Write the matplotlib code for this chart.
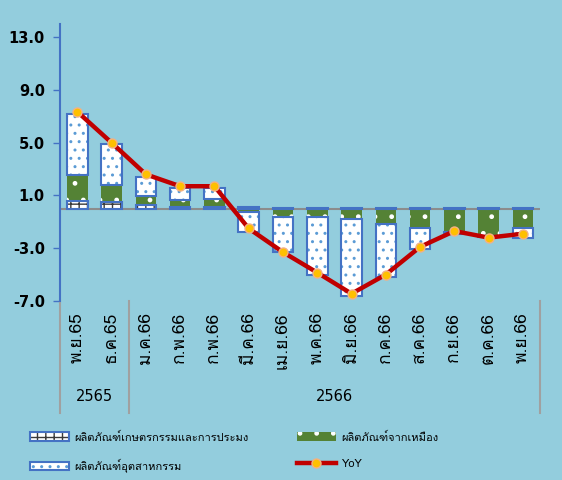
import numpy as np
import matplotlib
matplotlib.use("Agg")
import matplotlib.pyplot as plt
import matplotlib.transforms as mtransforms
from matplotlib import font_manager as fm
from matplotlib.patches import Patch
from matplotlib.lines import Line2D
from matplotlib.legend_handler import HandlerTuple

# --- find a font that can draw Thai ---
thai_font = None
try:
    from fontTools.ttLib import TTFont
    for f in fm.fontManager.ttflist:
        try:
            tt = TTFont(f.fname, fontNumber=0, lazy=True)
            if ord('ก') in tt.getBestCmap():
                thai_font = f.name
                break
        except Exception:
            pass
except Exception:
    pass
thai_family = [thai_font, 'DejaVu Sans'] if thai_font else ['DejaVu Sans']

# --- data ---
months = ['พ.ย.65', 'ธ.ค.65', 'ม.ค.66', 'ก.พ.66', 'ก.พ.66', 'มี.ค.66', 'เม.ย.66',
          'พ.ค.66', 'มิ.ย.66', 'ก.ค.66', 'ส.ค.66', 'ก.ย.66', 'ต.ค.66', 'พ.ย.66']
agri = [0.6, 0.5, 0.25, 0.15, 0.15, 0.1, 0.05, 0.03, 0.03, 0.03, 0.03, 0.05, 0.05, 0.05]
mining = [1.95, 1.3, 0.7, 0.5, 0.55, -0.25, -0.6, -0.6, -0.75, -1.15, -1.45, -1.75, -2.1, -1.45]
industry = [4.65, 3.1, 1.45, 0.95, 0.9, -1.5, -2.7, -4.4, -5.85, -4.0, -1.6, -0.15, -0.05, -0.8]
yoy = [7.35, 5.0, 2.6, 1.7, 1.7, -1.5, -3.3, -4.85, -6.45, -5.0, -2.9, -1.7, -2.2, -1.9]
years = ['2565', '2566']
year_span = [(0, 1), (2, 13)]
yticks = [-7.0, -3.0, 1.0, 5.0, 9.0, 13.0]

labels = ['ผลิตภัณฑ์เกษตรกรรมและการประมง', 'ผลิตภัณฑ์อุตสาหกรรม',
          'ผลิตภัณฑ์จากเหมือง', 'YoY']

bg = '#93CDDD'
blue = '#4472C4'
green = '#548235'
red = '#C00000'

fig = plt.figure(figsize=(5.62, 4.80), dpi=100, facecolor=bg)
ax = fig.add_axes([0.107, 0.373, 0.854, 0.577])
ax.set_facecolor(bg)

x = np.arange(len(months))
w = 0.6
pos_base = np.zeros(len(x))
neg_base = np.zeros(len(x))


def stack(vals):
    vals = np.array(vals)
    bottoms = np.where(vals >= 0, pos_base, neg_base)
    pos_base[:] += np.where(vals >= 0, vals, 0)
    neg_base[:] += np.where(vals < 0, vals, 0)
    return vals, bottoms


# agriculture: checker-ish pattern
v, b = stack(agri)
ax.bar(x, v, w, bottom=b, color='white', edgecolor='#3a3a3a', hatch='++', lw=0, zorder=2)
ax.bar(x, v, w, bottom=b, fill=False, edgecolor=blue, lw=1.5, zorder=3)

# mining: green with white dots
v, b = stack(mining)
ax.bar(x, v, w, bottom=b, color=green, edgecolor='white', hatch='.', lw=0, zorder=2)

# industry: white with blue dots
v, b = stack(industry)
ax.bar(x, v, w, bottom=b, color='white', edgecolor='#5B9BD5', hatch='..', lw=0, zorder=2)
ax.bar(x, v, w, bottom=b, fill=False, edgecolor=blue, lw=1.5, zorder=3)

ax.axhline(0, color='#8C8C8C', lw=1.5, zorder=1)

ax.plot(x, yoy, color=red, lw=3.2, marker='o', ms=6.5, mfc='#FFC000',
        mec='#F4B183', mew=1, zorder=5, solid_capstyle='round')

ax.set_xlim(-0.5, len(x) - 0.5)
ax.set_ylim(-7, 14)
ax.set_yticks(yticks)
ax.set_yticklabels([f'{t:.1f}' for t in yticks], fontsize=10.5, fontweight='bold')
ax.tick_params(axis='y', length=5, width=1, color=blue, pad=6)
ax.set_xticks(x)
ax.set_xticklabels(months, rotation=90, fontsize=12.5, family=thai_family)
ax.tick_params(axis='x', length=0, pad=8)
for s in ['top', 'right', 'bottom']:
    ax.spines[s].set_visible(False)
ax.spines['left'].set_color(blue)
ax.spines['left'].set_linewidth(1.5)

# group separators and year labels under the axis
trans = mtransforms.blended_transform_factory(ax.transData, ax.transAxes)
for xs in [-0.5, 1.5, len(x) - 0.5]:
    ax.plot([xs, xs], [0, -0.405], color='#A0A0A0', lw=1.5, transform=trans, clip_on=False)
for yr, (a, b2) in zip(years, year_span):
    ax.text((a + b2) / 2, -0.345, yr, transform=trans, ha='center', va='center', fontsize=10.5)

# legends
agri_h = (Patch(facecolor='white', edgecolor='#3a3a3a', hatch='++', lw=0),
          Patch(fill=False, edgecolor=blue, lw=1.5))
ind_h = (Patch(facecolor='white', edgecolor='#5B9BD5', hatch='..', lw=0),
         Patch(fill=False, edgecolor=blue, lw=1.5))
min_h = Patch(facecolor=green, edgecolor='white', hatch='.', lw=0)
yoy_h = Line2D([], [], color=red, lw=3.2, marker='o', ms=6.5, mfc='#FFC000', mec='#F4B183')

common = dict(frameon=False, handlelength=3.5, handleheight=0.8, labelspacing=1.45,
              handletextpad=0.5, prop={'family': thai_family, 'size': 8},
              handler_map={tuple: HandlerTuple(ndivide=1, pad=0)})
fig.legend([agri_h, ind_h], labels[:2], loc='upper left', bbox_to_anchor=(0.035, 0.122), **common)
fig.legend([min_h, yoy_h], labels[2:], loc='upper left', bbox_to_anchor=(0.51, 0.122), **common)

fig.savefig('out.png', dpi=100, facecolor=bg)
